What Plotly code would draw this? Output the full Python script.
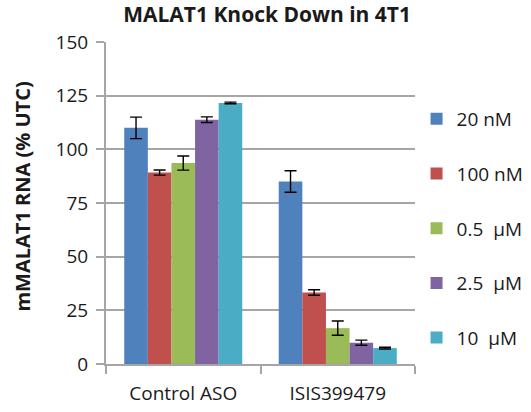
import plotly.graph_objects as go

categories = ["Control ASO", "ISIS399479"]
series_names = ["20 nM", "100 nM", "0.5  \u03bcM", "2.5  \u03bcM", "10  \u03bcM"]
values = [
    [110.0, 85.0],
    [89.2, 33.3],
    [93.6, 16.7],
    [113.8, 9.9],
    [121.6, 7.4],
]
errors = [
    [5.0, 5.0],
    [1.2, 1.3],
    [3.3, 3.3],
    [1.3, 1.2],
    [0.4, 0.4],
]
colors = ["#4F81BD", "#C0504D", "#9BBB59", "#8064A2", "#4BACC6"]
y_ticks = [0, 25, 50, 75, 100, 125, 150]

FONT = "Open Sans"
GRID = "#A6A6A6"

fig = go.Figure()
for i, name in enumerate(series_names):
    fig.add_trace(go.Bar(
        x=categories, y=values[i], name=name,
        marker=dict(color=colors[i], line=dict(width=0)),
        error_y=dict(type="data", array=errors[i], visible=True,
                     color="#000000", thickness=1.4, width=6),
        legendgroup=f"g{i}",
    ))

fig.update_layout(
    width=531, height=412,
    margin=dict(l=106, r=116, t=41.5, b=47.7, pad=0, autoexpand=False),
    paper_bgcolor="white", plot_bgcolor="white",
    barmode="group", bargap=0.236, bargroupgap=0,
    font=dict(family=FONT, size=19, color="#1a1a1a"),
    title=dict(text="<b>MALAT1 Knock Down in 4T1</b>", x=0.503, xanchor="center",
               y=0.964, yanchor="middle", font=dict(family=FONT, size=21, color="#1a1a1a")),
    legend=dict(x=1.005, xanchor="left", y=0.82, yanchor="top",
                font=dict(family=FONT, size=19, color="#1a1a1a"),
                tracegroupgap=27, bgcolor="rgba(0,0,0,0)", traceorder="grouped"),
    xaxis=dict(showline=True, linecolor=GRID, linewidth=2, automargin=False,
               ticks="outside", tickson="boundaries", ticklen=8, tickcolor=GRID, tickwidth=2,
               showgrid=False, tickfont=dict(size=19), zeroline=False, ticklabelstandoff=11),
    yaxis=dict(range=[0, 150], tickvals=y_ticks, showline=True, linecolor=GRID, linewidth=2,
               automargin=False,
               ticks="outside", ticklen=8, tickcolor=GRID, tickwidth=2,
               showgrid=True, gridcolor=GRID, gridwidth=2, zeroline=False,
               tickfont=dict(size=19), ticklabelstandoff=4),
    annotations=[dict(text="<b>mMALAT1 RNA (% UTC)</b>", textangle=-90,
                      xref="paper", yref="paper", x=-0.2686, y=0.52,
                      xanchor="center", yanchor="middle", showarrow=False,
                      font=dict(family=FONT, size=20, color="#1a1a1a"))],
)

fig.write_html("out.html", config={"displayModeBar": False},
               post_script="document.body.style.margin='0';")
